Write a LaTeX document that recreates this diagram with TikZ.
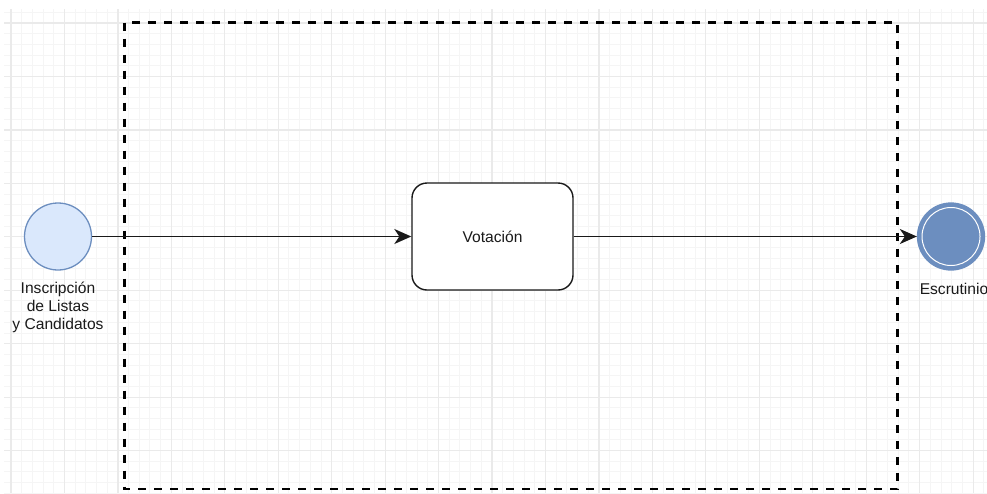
\documentclass[tikz,border=0pt]{standalone}
\usepackage{fontspec}
\setmainfont{Liberation Sans}
\usetikzlibrary{arrows.meta}
\definecolor{gridminor}{HTML}{F5F5F5}
\definecolor{gridmajor}{HTML}{EAEAEA}
\definecolor{startfill}{HTML}{DAE8FC}
\definecolor{blueline}{HTML}{6C8EBF}
\definecolor{labeltext}{HTML}{1A1A1A}
\tikzset{
  lbl/.style={font=\fontsize{15.6}{18}\selectfont, text=labeltext, align=center, inner sep=0pt},
  flow/.style={line width=1.6pt, draw=black!90, -{Stealth[length=17pt, width=15pt, inset=5pt]}},
  taskbox/.style={draw=black!90, line width=1.4pt, rounded corners=15pt, fill=white,
    minimum width=161pt, minimum height=107pt, inner sep=0pt},
  startev/.style={circle, draw=blueline, line width=1.3pt, fill=startfill, minimum size=67pt, inner sep=0pt},
  endev/.style={circle, draw=blueline, line width=1.3pt, fill=blueline, minimum size=67pt, inner sep=0pt},
  poolframe/.style={draw=black, line width=2.4pt, dash pattern=on 8pt off 8pt}
}
\begin{document}
\begin{tikzpicture}[x=1pt, y=-1pt]
  \useasboundingbox (0,0) rectangle (987,493);
  % background grid
  \begin{scope}
    \clip (4,9) rectangle (987,493);
    \foreach \i in {0,...,92} {
      \pgfmathsetmacro{\gx}{11+\i*10.69}
      \draw[gridminor, line width=1pt] (\gx,9) -- (\gx,493);
    }
    \foreach \j in {-1,...,44} {
      \pgfmathsetmacro{\gy}{23+\j*10.69}
      \draw[gridminor, line width=1pt] (4,\gy) -- (987,\gy);
    }
    \foreach \i in {0,5,...,90} {
      \pgfmathsetmacro{\gx}{11+\i*10.69}
      \draw[gridmajor, line width=1.2pt] (\gx,9) -- (\gx,493);
    }
    \foreach \j in {0,5,...,45} {
      \pgfmathsetmacro{\gy}{23+\j*10.69}
      \draw[gridmajor, line width=1.2pt] (4,\gy) -- (987,\gy);
    }
  \end{scope}

  % dashed frame
  \draw[poolframe] (124.5,22.5) rectangle (897.5,489);

  % events and task
  \node[startev] (start) at (58,236.5) {};
  \node[lbl] (startlbl) at (58,307.5) {Inscripción\\de Listas\\y Candidatos};
  \node[taskbox] (vot) at (492.5,236.5) {};
  \node[lbl] (votlbl) at (vot.center) {Votación};
  \node[endev] (end) at (951,236.5) {};
  \draw[white, line width=1pt] (end.center) circle (29pt);
  \node[lbl] (endlbl) at (954,289) {Escrutinio};

  % sequence flows
  \draw[flow] (start.east) -- (vot.west);
  \draw[flow] (vot.east) -- (end.west);
\end{tikzpicture}
\end{document}
